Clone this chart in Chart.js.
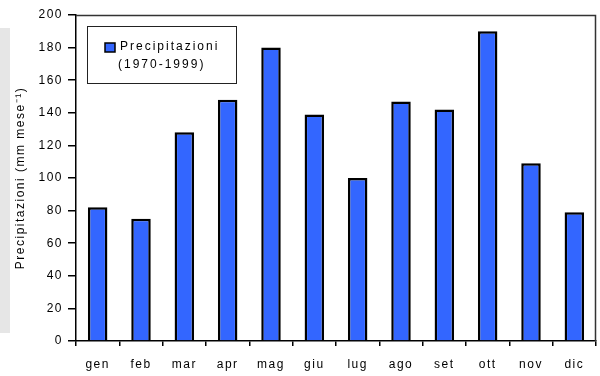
<!DOCTYPE html>
<html>
<head>
<meta charset="utf-8">
<script src="https://cdn.jsdelivr.net/npm/chart.js@4"></script>
<style>
  html, body { margin: 0; padding: 0; background: #fff; }
  #wrap { position: relative; width: 600px; height: 376px; }
  #strip { position: absolute; left: 0; top: 28px; width: 10px; height: 305px; background: #e6e6e6; }
  canvas { position: absolute; left: 0; top: 0; }
</style>
</head>
<body>
<div id="wrap">
  <div id="strip"></div>
  <canvas id="chart" width="600" height="376"></canvas>
</div>
<script>
const months = ['gen', 'feb', 'mar', 'apr', 'mag', 'giu', 'lug', 'ago', 'set', 'ott', 'nov', 'dic'];
const rain = [82, 75, 128, 148, 180, 139, 100, 147, 142, 190, 109, 79];
const yTicks = [0, 20, 40, 60, 80, 100, 120, 140, 160, 180, 200];
const legendLines = ['Precipitazioni', '(1970-1999)'];
const yTitle = 'Precipitazioni (mm mese\u207B\u00B9)';

const FONT = 'Liberation Sans, Arial, sans-serif';
const barColor = '#3366ff';

// spaziatura lettere come nell'originale
const spacing = {
    id: 'spacing',
    beforeInit(chart) { chart.ctx.letterSpacing = '1.5px'; },
    beforeDraw(chart) { chart.ctx.letterSpacing = '1.5px'; }
};

// cornice e legenda dentro l'area del grafico
const frameLegend = {
    id: 'frameLegend',
    afterDraw(chart) {
        const ctx = chart.ctx;
        const a = chart.chartArea;
        ctx.save();
        ctx.strokeStyle = '#333';
        ctx.lineWidth = 1.5;
        ctx.beginPath();
        ctx.moveTo(a.left, a.top + 0.5);
        ctx.lineTo(a.right - 0.5, a.top + 0.5);
        ctx.lineTo(a.right - 0.5, a.bottom);
        ctx.stroke();

        const x = a.left + 11, y = a.top + 11;
        ctx.fillStyle = '#fff';
        ctx.fillRect(x, y, 149, 57);
        ctx.strokeStyle = '#222';
        ctx.lineWidth = 1;
        ctx.strokeRect(x + 0.5, y + 0.5, 149, 57);

        ctx.fillStyle = barColor;
        ctx.fillRect(x + 18, y + 17, 10, 9);
        ctx.strokeStyle = '#000';
        ctx.lineWidth = 1.5;
        ctx.strokeRect(x + 18, y + 17, 10, 9);

        ctx.fillStyle = '#000';
        ctx.font = '12px ' + FONT;
        ctx.letterSpacing = '2px';
        ctx.textBaseline = 'middle';
        ctx.textAlign = 'left';
        ctx.fillText(legendLines[0], x + 33, y + 21);
        ctx.fillText(legendLines[1], x + 31, y + 39);
        ctx.restore();
    }
};

new Chart(document.getElementById('chart'), {
    type: 'bar',
    data: {
        labels: months,
        datasets: [{
            label: legendLines.join(' '),
            data: rain,
            backgroundColor: barColor,
            borderColor: '#000',
            borderWidth: 2.5,
            borderSkipped: 'bottom',
            categoryPercentage: 1,
            barPercentage: 0.45
        }]
    },
    options: {
        responsive: false,
        animation: false,
        layout: { padding: { top: 15, right: 4, left: 0, bottom: 0 } },
        plugins: {
            legend: { display: false },
            tooltip: { enabled: false }
        },
        scales: {
            x: {
                afterFit(scale) { scale.height = 35; },
                grid: {
                    offset: true,
                    drawOnChartArea: false,
                    drawTicks: true,
                    tickLength: 5,
                    color: '#000',
                    lineWidth: 1.5
                },
                border: { color: '#000', width: 1.5 },
                ticks: {
                    color: '#000',
                    padding: 11,
                    font: { family: FONT, size: 12 }
                }
            },
            y: {
                min: 0,
                max: 200,
                afterFit(scale) { scale.width = 76; },
                afterBuildTicks(scale) { scale.ticks = yTicks.map(v => ({ value: v })); },
                grid: {
                    drawOnChartArea: false,
                    drawTicks: true,
                    tickLength: 8,
                    color: '#000',
                    lineWidth: 1.5
                },
                border: { color: '#000', width: 1.5 },
                ticks: {
                    color: '#000',
                    padding: 5,
                    font: { family: FONT, size: 12 }
                },
                title: {
                    display: true,
                    text: yTitle,
                    color: '#000',
                    padding: { top: 13, bottom: 0 },
                    font: { family: FONT, size: 12 }
                }
            }
        }
    },
    plugins: [spacing, frameLegend]
});
</script>
</body>
</html>
